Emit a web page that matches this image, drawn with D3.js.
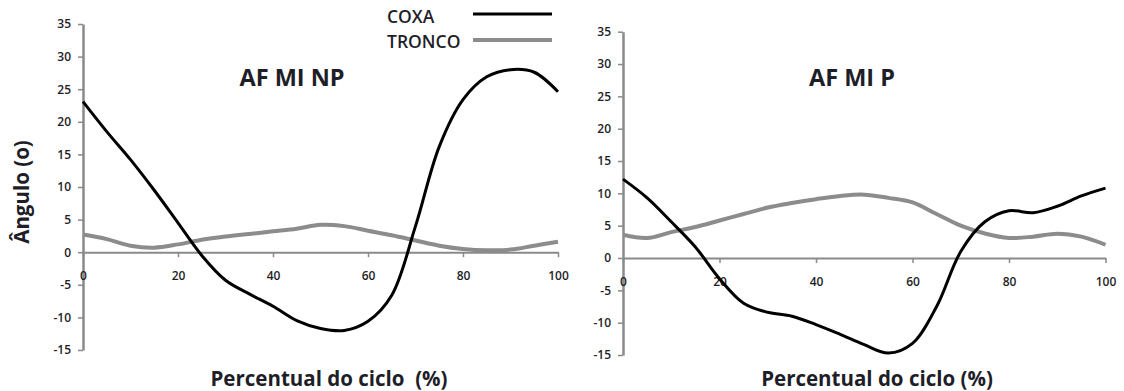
<!DOCTYPE html>
<html>
<head>
<meta charset="utf-8">
<script src="https://cdn.jsdelivr.net/npm/d3@7"></script>
<style>
  body { margin: 0; background: #fff; }
  svg { display: block; }
  text { font-family: "Open Sans", "Noto Sans", sans-serif; fill: #1e1e28; }
</style>
</head>
<body>
<div id="chart"></div>
<script>
var svgWidth = 1124;
var svgHeight = 391;

// percent of gait cycle
var ciclo = [0, 5, 10, 15, 20, 25, 30, 35, 40, 45, 50, 55, 60, 65, 70, 75, 80, 85, 90, 95, 100];

// AF MI NP
var coxaNP   = [23.1, 18.5, 14.2, 9.5, 4.5, -0.5, -4.3, -6.4, -8.3, -10.5, -11.7, -12.0, -10.6, -6.6, 4.0, 16.2, 23.4, 26.9, 28.0, 27.6, 24.6];
var troncoNP = [2.7, 2.0, 1.0, 0.7, 1.2, 1.9, 2.4, 2.8, 3.2, 3.6, 4.2, 4.0, 3.3, 2.6, 1.8, 1.0, 0.5, 0.3, 0.4, 1.0, 1.6];

// AF MI P
var coxaP   = [12.2, 9.3, 5.6, 1.7, -3.2, -7.0, -8.4, -9.0, -10.3, -11.8, -13.4, -14.7, -13.2, -7.5, 1.0, 5.6, 7.3, 7.0, 8.0, 9.6, 10.8];
var troncoP = [3.6, 3.1, 4.0, 4.8, 5.8, 6.8, 7.8, 8.5, 9.1, 9.6, 9.8, 9.3, 8.6, 6.8, 5.0, 3.8, 3.1, 3.3, 3.75, 3.3, 2.05];

var yTicks = [-15, -10, -5, 0, 5, 10, 15, 20, 25, 30, 35];
var xTicks = [0, 20, 40, 60, 80, 100];

var axisGrey = "#8a8a8a";
var troncoGrey = "#8c8c8c";

var svg = d3.select("#chart")
    .append("svg")
    .attr("width", svgWidth)
    .attr("height", svgHeight);

function styleTickText(sel) {
    sel.attr("font-size", 12)
        .attr("font-weight", 600)
        .attr("fill", "#1e1e28")
        .style("font-family", '"Open Sans", sans-serif');
}

function drawPanel(p) {
    var x = d3.scaleLinear().domain([0, 100]).range([p.left, p.right]);
    var y = d3.scaleLinear().domain([-15, 35]).range([p.bottom, p.top]);

    var g = svg.append("g");

    // y axis
    var yAxis = g.append("g")
        .attr("transform", `translate(${p.left}, 0)`)
        .call(d3.axisLeft(y).tickValues(yTicks).tickFormat(d => String(d))
            .tickSize(5).tickSizeOuter(0).tickPadding(7));
    yAxis.select(".domain").attr("stroke", axisGrey).attr("stroke-width", 2.5);
    yAxis.selectAll(".tick line").attr("stroke", axisGrey).attr("stroke-width", 1.5);
    styleTickText(yAxis.selectAll("text"));

    // x axis at zero
    var xAxis = g.append("g")
        .attr("transform", `translate(0, ${y(0)})`)
        .call(d3.axisBottom(x).tickValues(xTicks).tickFormat(d => String(d))
            .tickSize(5).tickSizeOuter(0));
    xAxis.select(".domain").attr("stroke", axisGrey).attr("stroke-width", 2);
    xAxis.selectAll(".tick line").attr("stroke", axisGrey).attr("stroke-width", 1.5);
    styleTickText(xAxis.selectAll("text").attr("y", 19));

    var line = d3.line()
        .x((d, i) => x(ciclo[i]))
        .y(d => y(d))
        .curve(d3.curveCatmullRom.alpha(0.5));

    g.append("path")
        .datum(p.tronco)
        .attr("d", line)
        .attr("fill", "none")
        .attr("stroke", troncoGrey)
        .attr("stroke-width", 4);

    g.append("path")
        .datum(p.coxa)
        .attr("d", line)
        .attr("fill", "none")
        .attr("stroke", "#000")
        .attr("stroke-width", 3);

    // panel title
    g.append("text")
        .attr("x", p.titleX)
        .attr("y", 86)
        .attr("text-anchor", "middle")
        .attr("font-size", 23.5)
        .attr("font-weight", 700)
        .text(p.title);

    // x label
    g.append("text")
        .attr("x", p.xLabelX)
        .attr("y", 386)
        .attr("text-anchor", "middle")
        .attr("font-size", 20.5)
        .attr("font-weight", 700)
        .attr("xml:space", "preserve")
        .style("white-space", "pre")
        .text(p.xLabel);
}

drawPanel({
    left: 83, right: 558, top: 24, bottom: 350,
    coxa: coxaNP, tronco: troncoNP,
    title: "AF MI NP", titleX: 292,
    xLabel: "Percentual do ciclo  (%)", xLabelX: 329
});

drawPanel({
    left: 623, right: 1105.5, top: 31.7, bottom: 355,
    coxa: coxaP, tronco: troncoP,
    title: "AF MI P", titleX: 852,
    xLabel: "Percentual do ciclo (%)", xLabelX: 877
});

// y axis title
svg.append("text")
    .attr("transform", "translate(29, 192) rotate(-90)")
    .attr("text-anchor", "middle")
    .attr("font-size", 20.5)
    .attr("font-weight", 700)
    .text("Ângulo (o)");

// legend
var legendItems = [
    { name: "COXA", color: "#000", width: 3, ty: 23, ly: 14 },
    { name: "TRONCO", color: troncoGrey, width: 4, ty: 48, ly: 40 }
];
var legend = svg.append("g");
legend.selectAll("line").data(legendItems).enter()
    .append("line")
    .attr("x1", 473).attr("x2", 552)
    .attr("y1", d => d.ly).attr("y2", d => d.ly)
    .attr("stroke", d => d.color)
    .attr("stroke-width", d => d.width);
legend.selectAll("text").data(legendItems).enter()
    .append("text")
    .attr("x", 387)
    .attr("y", d => d.ty)
    .attr("font-size", 17.5)
    .attr("font-weight", 600)
    .text(d => d.name);
</script>
</body>
</html>
